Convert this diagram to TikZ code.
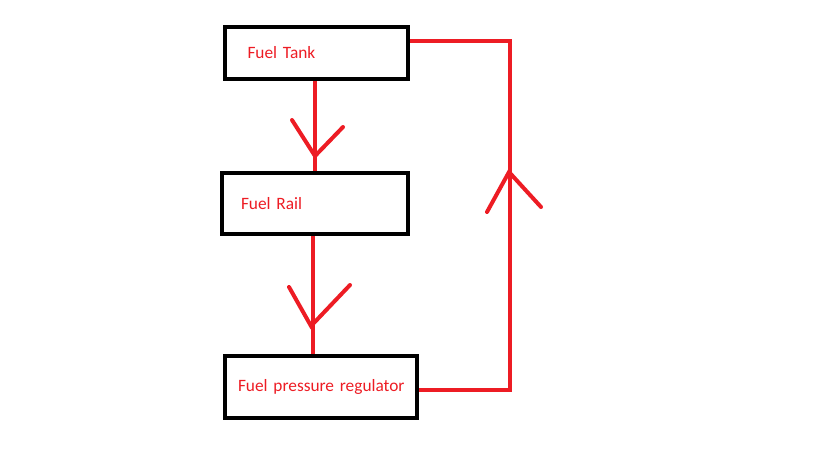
\documentclass[tikz,border=0pt]{standalone}
\usepackage{fontspec}
\setmainfont{Carlito}
\usepackage{tikz}
\usetikzlibrary{calc}
\usepackage{xcolor}
\definecolor{paintred}{RGB}{237,28,36}

\tikzset{
  box/.style={draw=black, line width=3pt, text=paintred, align=left,
    font=\fontsize{13}{15}\selectfont, inner ysep=0pt},
  flow/.style={draw=paintred, line width=3pt},
  arm/.style={draw=paintred, line width=3pt, line cap=round}
}

\begin{document}
\begin{tikzpicture}[x=0.75pt, y=-0.75pt]
  \useasboundingbox (0,0) rectangle (816,460);
  % boxes
  \node[box, text width=137*0.75pt, inner xsep=23*0.75pt, minimum height=52*0.75pt] (tank) at (316,53) {Fuel Tank};
  \node[box, text width=148*0.75pt, inner xsep=19*0.75pt, minimum height=61*0.75pt] (rail) at (315,203.5) {Fuel Rail};
  \node[box, text width=166*0.75pt, inner xsep=13*0.75pt, minimum height=62*0.75pt] (reg) at (321,387) {\mbox{Fuel pressure regulator}};

  % tank to rail
  \draw[flow] (tank.south -| 315,0) -- (rail.north -| 315,0);
  \coordinate (tipA) at (315,156);
  \draw[arm] (292,120) -- (tipA) -- (343,127);

  % rail to regulator
  \draw[flow] (rail.south -| 313,0) -- (reg.north -| 313,0);
  \coordinate (tipB) at (311,326);
  \draw[arm] (289,287) -- (tipB) -- (350,285);

  % return line
  \coordinate (back) at (510,390);
  \draw[flow] (reg.east |- back) -- (back) -- (back |- 0,41) -- (tank.east |- 0,41);
  \coordinate (tipC) at (509,172);
  \draw[arm] (487,212) -- (tipC) -- (541,207);
\end{tikzpicture}
\end{document}
